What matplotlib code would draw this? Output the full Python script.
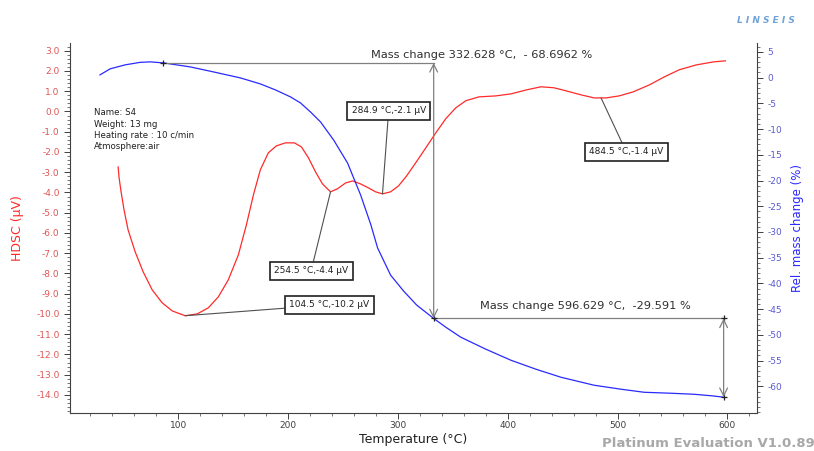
import numpy as np
import matplotlib
matplotlib.use('Agg')
import matplotlib.pyplot as plt
from matplotlib.ticker import MultipleLocator, FixedLocator, FormatStrFormatter

plt.rcParams['font.family'] = ['DejaVu Sans']
plt.rcParams['axes.unicode_minus'] = False

# HDSC curve (left axis, µV)
dsc_temp = [45.3, 46.2, 48.0, 50.7, 54.4, 60.8, 68.1, 76.3, 85.4, 94.5, 106.3, 117.3,
            127.4, 136.5, 145.6, 154.8, 162.1, 168.5, 174.8, 182.1, 189.4, 197.6, 205.8,
            212.2, 218.6, 225, 231.4, 238.7, 245, 252.4, 258.8, 266.1, 273.4, 279.7, 286,
            293.4, 300.7, 308, 316.2, 325.4, 334.5, 343.6, 352.7, 361.9, 373.7, 389.3,
            403, 416.6, 430.3, 442.2, 453.1, 466.8, 478.7, 489.6, 501.5, 514.3, 528.9,
            542.6, 556.2, 571.7, 587.3, 598.2]
dsc_val = [-2.74, -3.28, -3.97, -4.86, -5.85, -6.93, -7.92, -8.81, -9.45, -9.85, -10.09, -10.0,
           -9.7, -9.16, -8.32, -7.08, -5.6, -4.12, -2.88, -2.04, -1.7, -1.55, -1.55,
           -1.75, -2.29, -2.98, -3.58, -3.97, -3.82, -3.53, -3.43, -3.58, -3.78, -3.97, -4.07,
           -3.97, -3.67, -3.18, -2.54, -1.8, -1.06, -0.36, 0.18, 0.53, 0.72, 0.77,
           0.87, 1.06, 1.22, 1.17, 1.02, 0.82, 0.67, 0.67, 0.77, 0.97, 1.31,
           1.71, 2.06, 2.3, 2.45, 2.5]

# relative mass change (right axis, %)
tg_temp = [28.8, 38.0, 51.6, 65.3, 74.5, 86.3, 110.9, 131.9, 156.6, 174.8, 188.5, 202.2,
           211.3, 220.4, 229.6, 241.5, 254.2, 266.1, 275.2, 281.6, 293.4, 305.3, 317.2,
           332.6, 343.6, 357.3, 380.1, 402.9, 425.7, 448.5, 478.6, 503.3, 524.3, 549,
           569.8, 585.4, 596.6]
tg_val = [0.53, 1.69, 2.47, 2.96, 3.05, 2.86, 2.08, 1.11, -0.06, -1.23, -2.39, -3.75,
          -4.92, -6.67, -8.62, -12.12, -16.6, -22.82, -28.46, -33.13, -38.39, -41.5, -44.22,
          -46.8, -48.5, -50.45, -52.78, -54.92, -56.67, -58.23, -59.78, -60.56, -61.15, -61.34,
          -61.54, -61.83, -62.1]

peak_labels = ['284.9 °C,-2.1 μV', '254.5 °C,-4.4 μV', '104.5 °C,-10.2 μV', '484.5 °C,-1.4 μV']
peak_points = [(286, -4.07), (238.7, -3.97), (106.3, -10.09), (485, 0.67)]
peak_boxes = [(291.6, 0.03), (221, -7.87), (237.8, -9.55), (508, -2.0)]

info_text = 'Name: S4\nWeight: 13 mg\nHeating rate : 10 c/min\nAtmosphere:air'

fig = plt.figure(figsize=(8.14, 4.51), dpi=100)
ax1 = fig.add_axes([0.086, 0.084, 0.844, 0.821])
ax2 = ax1.twinx()

red = '#ff2a2a'
blue = '#2a2aff'

ax1.plot(dsc_temp, dsc_val, color=red, lw=0.9)
ax2.plot(tg_temp, tg_val, color=blue, lw=0.9)

ax1.set_xlim(1.5, 627)
ax1.set_ylim(-14.9, 3.39)
ax2.set_ylim(-65.2, 6.75)

# axes styling
for s in ['top', 'right']:
    ax1.spines[s].set_visible(False)
for s in ['top', 'left', 'bottom']:
    ax2.spines[s].set_visible(False)
for ax in (ax1, ax2):
    for s in ax.spines.values():
        s.set_color('#404040')
        s.set_linewidth(0.8)

ax1.xaxis.set_major_locator(MultipleLocator(100))
ax1.xaxis.set_minor_locator(MultipleLocator(20))
ax1.yaxis.set_major_locator(MultipleLocator(1.0))
ax1.yaxis.set_minor_locator(MultipleLocator(0.2))
ax1.yaxis.set_major_formatter(FormatStrFormatter('%.1f'))
ax2.yaxis.set_major_locator(FixedLocator(np.arange(-60, 6, 5)))
ax2.yaxis.set_minor_locator(MultipleLocator(1))

ax1.tick_params(axis='x', which='major', length=4, width=0.7, labelsize=6.5, labelcolor='#404040', color='#404040', pad=1.5)
ax1.tick_params(axis='x', which='minor', length=2, width=0.5, color='#404040')
ax1.tick_params(axis='y', which='major', length=4, width=0.7, labelsize=6.5, labelcolor='#e05555', color='#404040')
ax1.tick_params(axis='y', which='minor', length=2, width=0.5, color='#404040')
ax2.tick_params(axis='y', which='major', length=4, width=0.7, labelsize=6.5, labelcolor='#5a5ad0', color='#404040')
ax2.tick_params(axis='y', which='minor', length=2, width=0.5, color='#404040')

ax1.set_xlabel('Temperature (°C)', fontsize=9, color='#202020', labelpad=2)
ax1.set_ylabel('HDSC (μV)', fontsize=9, color=red, labelpad=9)
ax2.set_ylabel('Rel. mass change (%)', fontsize=8.5, color=blue, rotation=90, labelpad=6)

# sample info
ax1.text(23, 0.15, info_text, fontsize=6.2, color='#202020', va='top', ha='left', linespacing=1.3)

# peak annotations
for lab, pt, bx in zip(peak_labels, peak_points, peak_boxes):
    ax1.annotate(lab, xy=pt, xytext=bx, fontsize=6.5, color='#202020', ha='center', va='center',
                 bbox=dict(boxstyle='square,pad=0.5', fc='white', ec='#202020', lw=1.2),
                 arrowprops=dict(arrowstyle='-', color='#505050', lw=0.8, shrinkA=0, shrinkB=0))

# mass change steps
gray = '#808080'
ax2.plot([86.3, 332.6], [2.86, 2.86], color=gray, lw=0.9)
ax2.annotate('', xy=(332.6, 2.86), xytext=(332.6, -46.8),
             arrowprops=dict(arrowstyle='<->', color=gray, lw=0.9, shrinkA=0, shrinkB=0, mutation_scale=14))
ax2.plot([332.6, 596.6], [-46.8, -46.8], color=gray, lw=0.9)
ax2.annotate('', xy=(596.6, -46.8), xytext=(596.6, -62.1),
             arrowprops=dict(arrowstyle='<->', color=gray, lw=0.9, shrinkA=0, shrinkB=0, mutation_scale=14))
ax2.plot([86.3, 332.6, 596.6, 596.6], [2.86, -46.8, -46.8, -62.1], ls='none', marker='+', ms=4, mew=0.9, color='#202020')

ax2.text(376, 4.4, 'Mass change 332.628 °C,  - 68.6962 %', fontsize=8.2, color='#303030', ha='center', va='center')
ax2.text(471, -44.3, 'Mass change 596.629 °C,  -29.591 %', fontsize=8.2, color='#303030', ha='center', va='center')

# footer and logo
fig.text(0.74, 0.002, 'Platinum Evaluation V1.0.89', fontsize=9.5, fontweight='bold', color='#a8a8a8', ha='left', va='bottom')
fig.text(0.905, 0.955, 'L I N S E I S', fontsize=6.5, style='italic', fontweight='bold', color='#6fa3d8', ha='left', va='center')

fig.savefig('out.png', dpi=100)
